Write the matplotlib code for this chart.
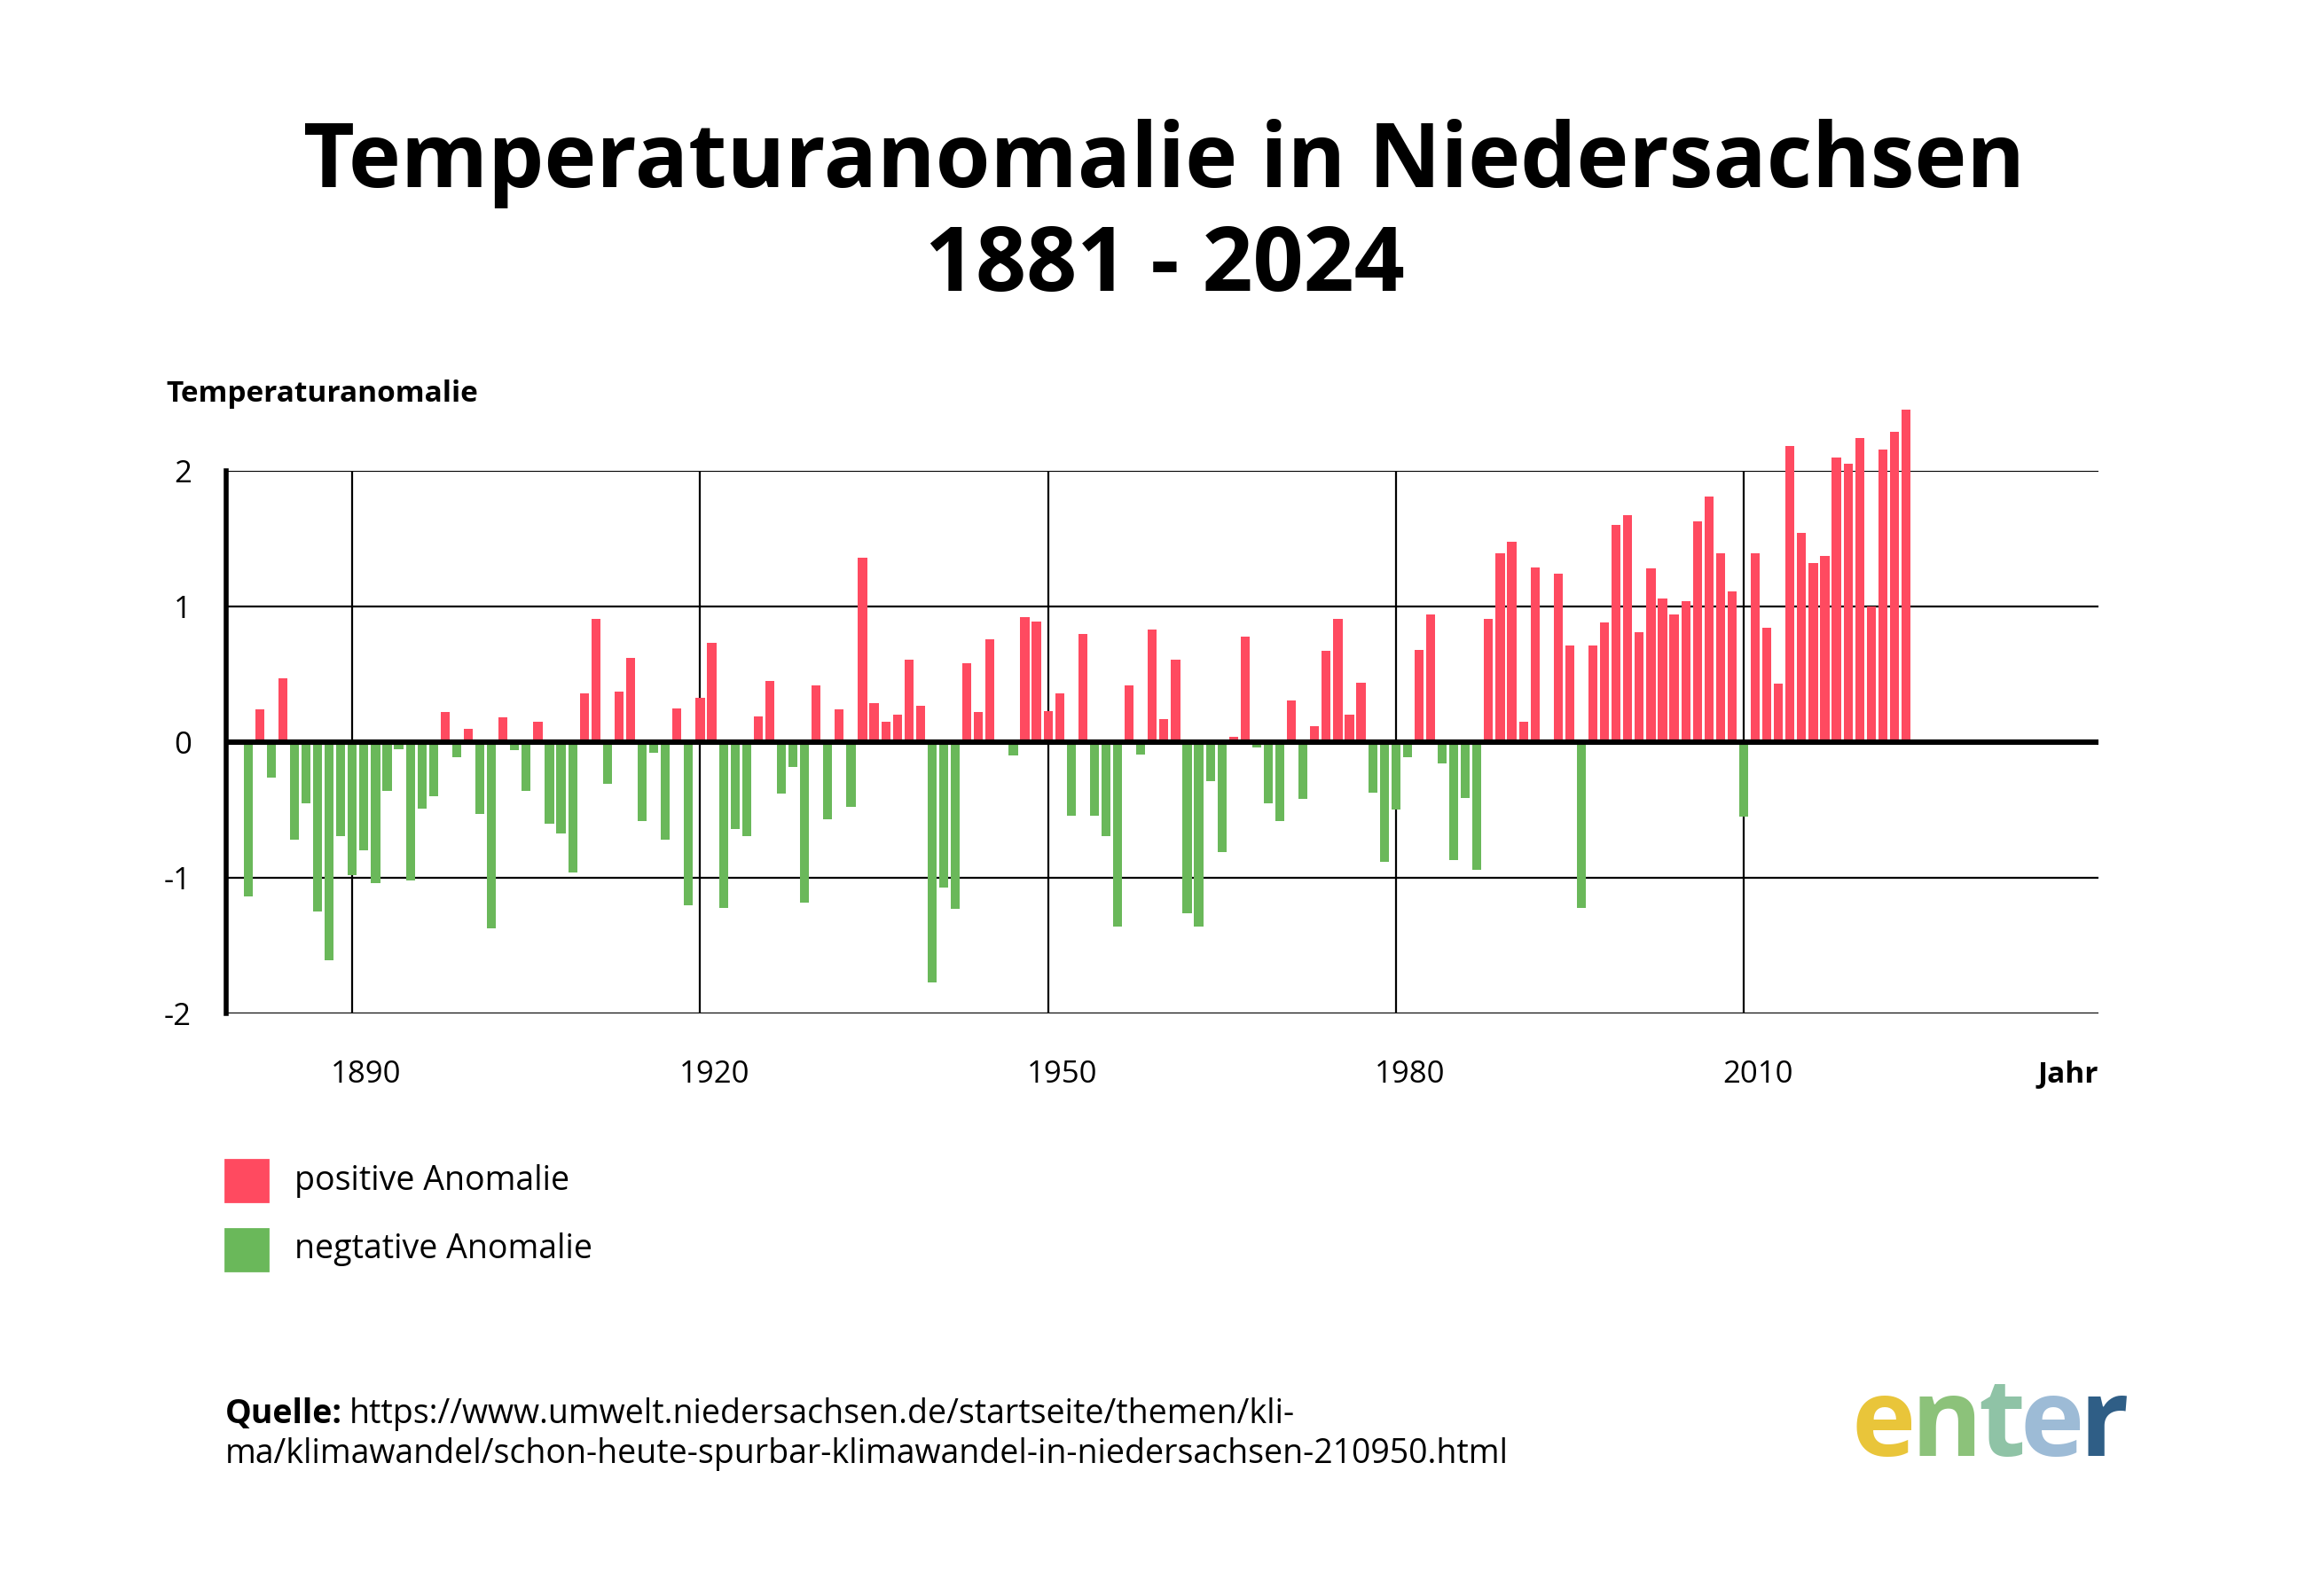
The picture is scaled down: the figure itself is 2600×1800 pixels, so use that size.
import numpy as np
import matplotlib.pyplot as plt
from matplotlib.patches import Rectangle

# Temperature anomaly per year, 1881-2024
years = list(range(1881, 2025))
anomaly = [
    -1.14, 0.24, -0.26, 0.47, -0.72, -0.45, -1.25, -1.61, -0.69,           # 1881-1889
    -0.98, -0.80, -1.04, -0.36, -0.05, -1.02, -0.49, -0.40, 0.22, -0.11,    # 1890-1899
    0.10, -0.53, -1.37, 0.18, -0.06, -0.36, 0.15, -0.60, -0.67, -0.96,      # 1900-1909
    0.36, 0.91, -0.31, 0.37, 0.62, -0.58, -0.08, -0.72, 0.25, -1.20,        # 1910-1919
    0.33, 0.73, -1.22, -0.64, -0.69, 0.19, 0.45, -0.38, -0.18, -1.18,       # 1920-1929
    0.42, -0.57, 0.24, -0.48, 1.36, 0.29, 0.15, 0.20, 0.61, 0.27,           # 1930-1939
    -1.77, -1.07, -1.23, 0.58, 0.22, 0.76, 0.0, -0.10, 0.92, 0.89,          # 1940-1949
    0.23, 0.36, -0.54, 0.80, -0.54, -0.69, -1.36, 0.42, -0.09, 0.83,        # 1950-1959
    0.17, 0.61, -1.26, -1.36, -0.29, -0.81, 0.04, 0.78, -0.04, -0.45,       # 1960-1969
    -0.58, 0.31, -0.42, 0.12, 0.67, 0.91, 0.20, 0.44, -0.37, -0.88,         # 1970-1979
    -0.50, -0.11, 0.68, 0.94, -0.16, -0.87, -0.41, -0.94, 0.91, 1.39,       # 1980-1989
    1.48, 0.15, 1.29, 0.0, 1.24, 0.71, -1.22, 0.71, 0.88, 1.60,             # 1990-1999
    1.67, 0.81, 1.28, 1.06, 0.94, 1.04, 1.63, 1.81, 1.39, 1.11,             # 2000-2009
    -0.55, 1.39, 0.84, 0.43, 2.18, 1.54, 1.32, 1.37, 2.10, 2.05,            # 2010-2019
    2.24, 1.00, 2.16, 2.29, 2.45,                                           # 2020-2024
]
x_ticks = [1890, 1920, 1950, 1980, 2010]
y_ticks = [-2, -1, 0, 1, 2]

RED = '#FF4A60'
GREEN = '#6AB85A'
plt.rcParams['font.family'] = ['Open Sans', 'DejaVu Sans']

fig = plt.figure(figsize=(13, 9), dpi=200)
ax = fig.add_axes([0.098, 0.365, 0.812, 0.340])

colors = [RED if v >= 0 else GREEN for v in anomaly]
ax.bar(years, anomaly, width=0.78, color=colors, clip_on=False, zorder=3)

ax.set_xlim(1879.1, 2040.6)
ax.set_ylim(-2, 2)

# grid
for y in y_ticks:
    ax.axhline(y, color='black', lw=0.8, zorder=1)
for x in x_ticks:
    ax.axvline(x, color='black', lw=0.8, zorder=1)
ax.axhline(0, color='black', lw=2.2, zorder=4)

for s in ['top', 'right', 'bottom']:
    ax.spines[s].set_visible(False)
ax.spines['left'].set_linewidth(2)
ax.spines['left'].set_zorder(5)

ax.set_yticks(y_ticks)
ax.set_yticklabels([str(v) for v in y_ticks], fontsize=12.5)
ax.tick_params(axis='y', length=0, pad=14)
ax.set_xticks([])
for x in x_ticks:
    ax.text(x + 1.2, -2.45, str(x), ha='center', va='center', fontsize=12.5)
ax.text(1.0, -2.45, 'Jahr', transform=ax.get_yaxis_transform(), ha='right',
        va='center', fontsize=12, fontweight='bold')

fig.text(0.072, 0.753, 'Temperaturanomalie', fontsize=12, fontweight='bold',
         ha='left', va='center')

fig.text(0.505, 0.865, 'Temperaturanomalie in Niedersachsen\n1881 - 2024',
         ha='center', va='center', fontsize=36, fontweight='bold', linespacing=1.2)

# legend
for i, (lab, col) in enumerate([('positive Anomalie', RED), ('negtative Anomalie', GREEN)]):
    yc = 1 - (799 + 46.5 * i) / 1080
    fig.patches.append(Rectangle((0.0975, yc - 0.013), 0.0185, 0.026, color=col,
                                 transform=fig.transFigure))
    fig.text(0.1275, yc, lab, fontsize=13.5, ha='left', va='center')

# source
src_size = 13.5
q = fig.text(0.0975, 1 - 957 / 1080, 'Quelle:', fontsize=src_size, fontweight='bold',
             ha='left', va='center')
fig.canvas.draw()
bb = q.get_window_extent().transformed(fig.transFigure.inverted())
fig.text(bb.x1 + 0.003, 1 - 957 / 1080,
         'https://www.umwelt.niedersachsen.de/startseite/themen/kli-',
         fontsize=src_size, ha='left', va='center')
fig.text(0.0975, 1 - 984 / 1080,
         'ma/klimawandel/schon-heute-spurbar-klimawandel-in-niedersachsen-210950.html',
         fontsize=src_size, ha='left', va='center')

# logo
logo_cols = ['#E9C53A', '#8CC27A', '#8FC3A6', '#9DBBD6', '#2F5E86']
xpos = 0.803
for ch, col in zip('enter', logo_cols):
    t = fig.text(xpos, 1 - 966 / 1080, ch, fontsize=44, fontweight='bold', color=col,
                 ha='left', va='center')
    fig.canvas.draw()
    xpos = t.get_window_extent().transformed(fig.transFigure.inverted()).x1 - 0.002

fig.savefig('out.png', dpi=200, facecolor='white')
